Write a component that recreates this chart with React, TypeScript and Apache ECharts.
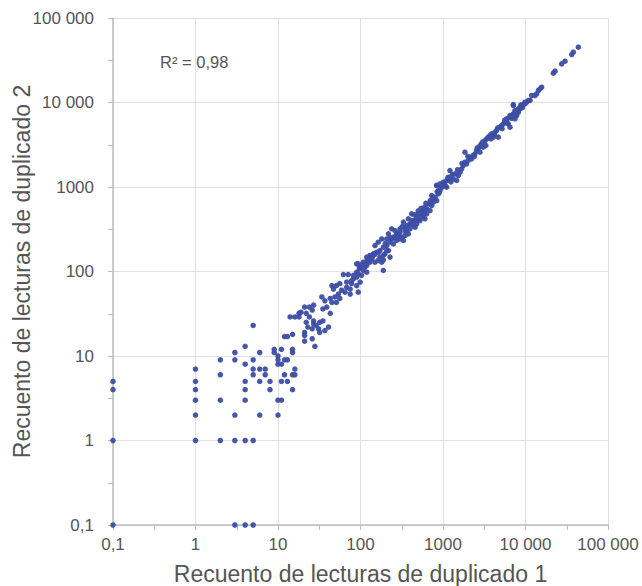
import React, { useEffect, useRef } from "react";
import * as echarts from "echarts";

// Read counts [duplicate 1, duplicate 2]
const lowReads: number[][] = [
  [0.1, 5], [0.1, 4], [0.1, 1], [0.1, 0.1],
  [1, 7], [1, 5], [1, 4], [1, 3], [1, 2], [1, 1],
  [2, 9], [2, 6], [2, 3], [2, 1],
  [3, 11], [3, 9], [3, 2], [3, 1], [3, 0.1],
  [4, 13], [4, 8], [4, 5], [4, 4], [4, 3], [4, 1], [4, 0.1],
  [5, 23], [5, 9], [5, 7], [5, 6], [5, 1], [5, 0.1],
  [6, 11], [6, 7], [6, 5], [6, 2],
  [7, 7], [7, 6], [8, 5], [8, 4], [9, 12], [9, 11],
  [10, 10], [10, 9], [10, 8], [10, 3], [10, 2],
  [11, 12], [11, 8], [11, 5], [11, 3],
  [12, 17], [12, 9], [12, 6], [13, 17], [13, 9], [13, 5],
  [15, 18], [15, 12], [15, 11], [15, 6], [15, 4], [16, 7], [16, 6],
];

const lowerBand: number[][] = [
  [119, 148], [130, 148], [94, 123], [103, 118], [113, 113], [97, 108], [108, 103], [119, 98],
  [94, 94], [103, 90], [90, 86], [82, 82], [99, 75], [78, 72], [90, 68], [68, 65], [75, 62],
  [62, 92], [71, 92], [82, 90], [56, 72], [51, 68], [47, 62], [45, 68], [59, 60], [65, 57],
  [54, 54], [49, 50], [43, 48], [56, 48], [51, 43], [45, 43], [37, 45], [39, 38], [35, 36],
  [43, 32], [34, 50], [75, 54], [94, 57], [78, 78], [68, 75], [90, 98],
  [27, 40], [24, 38], [21, 38], [19, 33], [18, 32], [22, 32], [26, 35], [24, 29], [27, 26],
  [22, 25], [18, 29], [16, 29], [14, 29], [23, 22], [26, 21], [27, 24], [29, 23], [32, 25],
  [35, 26], [41, 22], [37, 20], [32, 19], [31, 21], [21, 19], [21, 17.5], [21, 15], [26, 16],
  [28, 13],
];

const middleBand: number[][] = [
  [90, 123], [99, 112], [108, 129], [119, 118], [124, 135], [137, 141], [150, 129], [164, 135],
  [181, 129], [189, 137], [143, 162], [157, 169], [172, 177], [150, 203], [164, 222], [181, 243],
  [189, 194], [208, 203], [198, 162], [218, 177], [228, 222], [239, 243], [250, 212], [262, 255],
  [275, 233], [288, 267], [301, 292], [316, 255], [331, 233], [347, 305], [363, 350], [380, 279],
  [398, 320], [417, 366], [437, 401], [458, 334], [480, 440], [502, 481], [526, 401], [552, 504],
  [578, 459], [605, 420], [634, 551], [664, 632], [696, 527], [729, 604], [764, 661], [800, 757],
  [838, 692], [879, 830], [920, 908], [964, 995], [1009, 1089], [1057, 1042], [1109, 1194],
  [838, 1042], [729, 793], [417, 481], [380, 420], [331, 384], [239, 320], [218, 279], [262, 305],
  [189, 155], [130, 155], [172, 148], [228, 148], [208, 243], [189, 103],
  [113, 123], [130, 129], [208, 177], [250, 255], [275, 279], [301, 320], [363, 305], [398, 366],
  [458, 401], [480, 366], [526, 481], [578, 527], [605, 527], [301, 243], [347, 267], [437, 350],
  [502, 401], [552, 440], [634, 481], [696, 632], [764, 757], [879, 908],
  [320, 340], [350, 330], [420, 400], [450, 470], [500, 520], [540, 560], [590, 570], [620, 640],
  [700, 690], [760, 720], [850, 880], [900, 860], [200, 215], [230, 250], [270, 260], [150, 160],
  [165, 170], [120, 135], [140, 150],
];

const upperBand: number[][] = [
  [838, 1042], [919, 1089], [1009, 1140], [1107, 995], [1159, 1194], [1214, 1306], [1334, 1250],
  [1396, 1432], [1531, 1368], [1607, 1496], [1683, 1641], [1762, 1795], [1845, 1968], [1932, 1879],
  [2028, 2061], [2123, 2254], [2223, 2153], [2328, 2360], [2438, 2466], [2559, 2704], [2679, 2831],
  [2805, 3097], [2938, 3243], [3076, 2958], [3228, 3548], [3381, 3715], [3540, 3890], [3707, 4064],
  [3882, 4256], [4074, 3890], [4266, 4457], [4467, 4667], [4677, 3890], [4898, 5105], [5140, 5346],
  [5383, 5598], [5636, 5848], [5902, 6124], [6180, 5598], [6486, 6699], [6792, 7015], [7112, 7345],
  [7447, 8035], [7798, 7691], [8185, 8414], [8570, 8810], [8974, 9204], [7112, 9462], [9840, 10090],
  [10814, 10570], [1845, 2582], [1214, 1567], [1057, 1042], [1462, 1194], [2805, 2582], [6486, 5105],
  [1300, 1400], [1500, 1600], [1700, 1900], [2000, 2300], [2400, 2300], [2600, 2900], [3000, 3400],
  [3300, 3100], [3800, 3700], [4200, 4100], [4600, 5000], [5200, 4900], [5600, 6200], [6000, 5700],
  [6800, 6500], [7500, 7100], [8200, 7800], [8800, 9400], [9200, 8700], [1150, 1300], [950, 1000],
  [1250, 1150],
];

const topBand: number[][] = [
  [43650, 45150], [38000, 39450], [36300, 36980], [30150, 30850], [27440, 28640], [22800, 23500],
  [21750, 22250], [15700, 15170], [14320, 13870], [13650, 12650], [13030, 12100], [11880, 12100],
  [11350, 10570], [10330, 10090], [9860, 9640], [8570, 8414], [8185, 7670], [7820, 7015],
  [7130, 9204], [7460, 6410], [5915, 6410], [6490, 7015], [15000, 14500],
];

const rSquaredLabel = "R² = 0,98";
const xAxisName = "Recuento de lecturas de duplicado 1";
const yAxisName = "Recuento de lecturas de duplicado 2";

const FONT = '"Liberation Sans", Arial, Helvetica, sans-serif';
const TEXT = "#555555";
const AXIS = "#bdbdbd";
const GRID = "#e0e0e0";
const DOT = "#3c4ea4";

function fmt(v: number): string {
  if (v < 1) return "0,1";
  const n = Math.round(v);
  if (n >= 10000) return String(n).replace(/\B(?=(\d{3})+(?!\d))/g, " ");
  return String(n);
}

export default function App() {
  const ref = useRef<HTMLDivElement>(null);
  useEffect(() => {
    document.body.style.margin = "0";
    if (!ref.current) return;
    const chart = echarts.init(ref.current, undefined, { renderer: "svg" });
    const logAxis = (name: string, isX: boolean) => ({
      type: "log",
      logBase: 10,
      min: 0.1,
      max: 100000,
      name,
      nameLocation: "middle",
      nameGap: isX ? 37 : 80,
      nameMoveOverlap: false,
      nameTextStyle: { fontSize: 23, color: TEXT, fontFamily: FONT },
      axisLine: { show: true, onZero: false, lineStyle: { color: AXIS, width: 1.5 } },
      axisTick: { show: false },
      minorTick: { show: false },
      axisLabel: { formatter: fmt, fontSize: 17, color: TEXT, fontFamily: FONT, margin: isX ? 11 : 19 },
      splitLine: { show: true, lineStyle: { color: GRID, width: 1 } },
    });
    const tickAxis = (pos: string) => ({
      type: "value",
      min: -1,
      max: 5,
      interval: 0.5,
      position: pos,
      axisLine: { show: false, onZero: false },
      axisTick: { show: true, length: 5, lineStyle: { color: AXIS, width: 1 } },
      axisLabel: { show: false },
      splitLine: { show: false },
    });
    const mk = (data: number[][]) => ({
      type: "scatter",
      xAxisIndex: 0,
      yAxisIndex: 0,
      data,
      symbolSize: 5.5,
      clip: false,
      itemStyle: { color: DOT, opacity: 0.95 },
    });
    chart.setOption({
      animation: false,
      grid: { left: 113, right: 34, top: 18, bottom: 61, containLabel: false, outerBoundsMode: "none" },
      xAxis: [logAxis(xAxisName, true), tickAxis("bottom")],
      yAxis: [logAxis(yAxisName, false), tickAxis("left")],
      graphic: [
        {
          type: "text",
          left: 160,
          top: 53,
          style: { text: rSquaredLabel, font: `16.5px ${FONT}`, fill: TEXT },
        },
      ],
      series: [mk(lowReads), mk(lowerBand), mk(middleBand), mk(upperBand), mk(topBand)],
    });
    return () => chart.dispose();
  }, []);
  return <div ref={ref} style={{ width: 642, height: 586 }} />;
}
